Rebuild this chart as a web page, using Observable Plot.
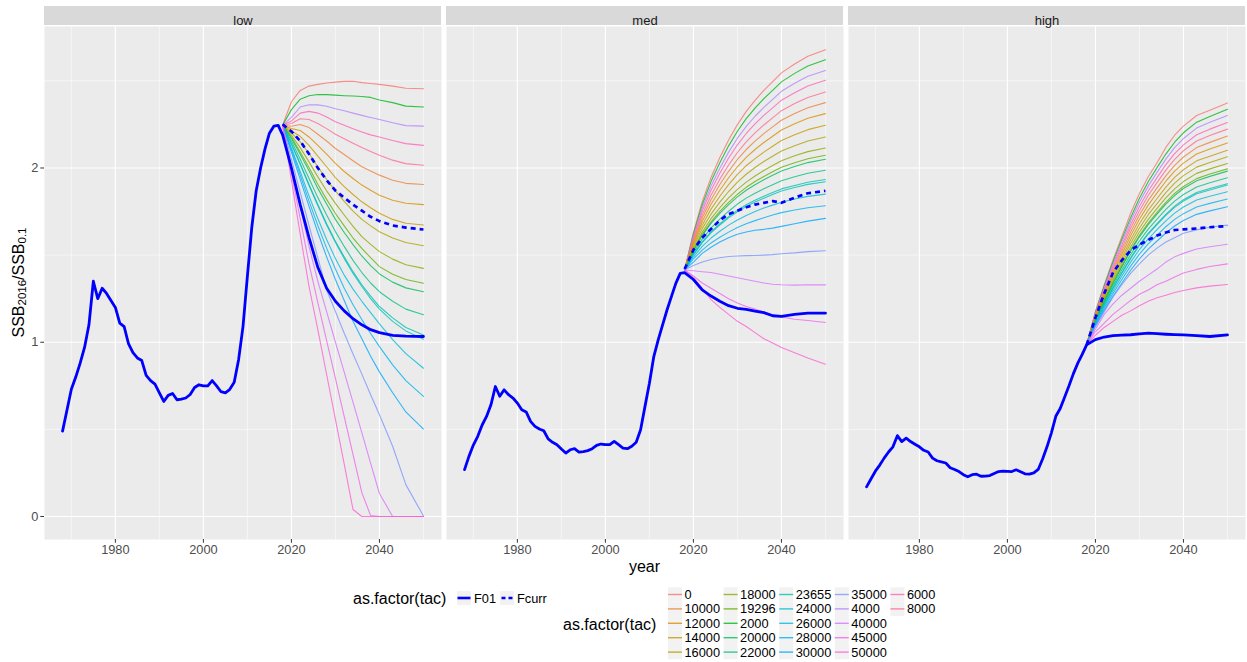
<!DOCTYPE html>
<html><head><meta charset="utf-8">
<script src="https://cdn.jsdelivr.net/npm/d3@7"></script>
<script src="https://cdn.jsdelivr.net/npm/@observablehq/plot@0.6"></script>
<style>
body{margin:0;background:#fff;}
#wrap{position:relative;width:1247px;height:662px;overflow:hidden;font-family:"Liberation Sans",Arial,sans-serif;}
#wrap svg{position:absolute;left:0;top:0;}
</style></head>
<body><div id="wrap"></div>
<script>
const FONT = "Liberation Sans, Arial, sans-serif";
const panels = ["low", "med", "high"];
const histYears = d3.range(1968, 2018);
const projYears = [2018, 2020, 2022, 2024, 2026, 2028, 2030, 2032, 2034, 2036, 2038, 2040, 2043, 2046, 2050];
const majorX = [1980, 2000, 2020, 2040];
const minorX = [1970, 1990, 2010, 2030, 2050];
const majorY = [0, 1, 2];
const minorY = [0.5, 1.5, 2.5];

// historical SSB ratio (F01 line, 1968-2017)
const lowHist = [0.49,0.61,0.73,0.80,0.88,0.97,1.10,1.35,1.25,1.31, 1.28,1.24,1.20,1.11,1.09,0.99,0.94,0.91,0.895,0.81, 0.78,0.76,0.71,0.66,0.695,0.706,0.67,0.674,0.68,0.70, 0.74,0.756,0.75,0.75,0.78,0.75,0.716,0.71,0.73,0.77, 0.90,1.09,1.38,1.66,1.87,2.00,2.11,2.20,2.24,2.245];
const medHist = [0.269,0.345,0.41,0.46,0.525,0.574,0.641,0.746,0.69,0.727, 0.699,0.68,0.651,0.613,0.60,0.546,0.517,0.502,0.492,0.445, 0.426,0.412,0.387,0.364,0.383,0.389,0.37,0.372,0.378,0.389, 0.408,0.416,0.412,0.412,0.431,0.412,0.393,0.389,0.403,0.426, 0.498,0.632,0.765,0.918,1.013,1.10,1.185,1.262,1.338,1.395];
const highHist = [0.170,0.215,0.26,0.295,0.335,0.37,0.40,0.464,0.43,0.45, 0.43,0.415,0.40,0.38,0.37,0.335,0.32,0.313,0.307,0.28, 0.27,0.258,0.24,0.228,0.24,0.243,0.231,0.232,0.235,0.247, 0.258,0.26,0.259,0.258,0.268,0.257,0.245,0.243,0.25,0.27, 0.33,0.40,0.48,0.575,0.62,0.685,0.75,0.82,0.88,0.93];

// F01 projections (projYears)
const lowF01 = [2.19,2.0,1.79,1.6,1.43,1.31,1.235,1.18,1.135,1.10,1.072,1.055,1.04,1.035,1.033];
const medF01 = [1.40,1.36,1.30,1.265,1.235,1.21,1.195,1.188,1.178,1.17,1.152,1.148,1.16,1.167,1.167];
const highF01 = [0.985,1.015,1.03,1.038,1.041,1.043,1.048,1.052,1.049,1.046,1.044,1.042,1.038,1.033,1.042];

// Fcurr projections (projYears)
const lowFcurr = [2.25,2.21,2.155,2.08,2.0,1.93,1.87,1.83,1.79,1.755,1.72,1.695,1.67,1.658,1.647];
const medFcurr = [1.42,1.53,1.60,1.65,1.70,1.735,1.755,1.775,1.79,1.80,1.81,1.80,1.83,1.855,1.869];
const highFcurr = [0.985,1.14,1.28,1.40,1.47,1.527,1.56,1.587,1.612,1.63,1.644,1.648,1.653,1.66,1.667];

// TAC scenarios (rows follow tacValues)
const tacValues = ["0","2000","4000","6000","8000","10000","12000","14000","16000","18000","19296","20000","22000","23655","24000","26000","28000","30000","35000","40000","45000","50000"];

const lowTac = [
[2.245,2.38,2.445,2.47,2.48,2.488,2.493,2.497,2.498,2.49,2.485,2.48,2.47,2.458,2.455],
[2.245,2.335,2.395,2.415,2.422,2.421,2.418,2.415,2.413,2.41,2.405,2.39,2.375,2.355,2.35],
[2.245,2.29,2.35,2.363,2.362,2.354,2.34,2.328,2.315,2.302,2.29,2.278,2.26,2.243,2.24],
[2.245,2.27,2.315,2.325,2.315,2.293,2.265,2.245,2.225,2.207,2.19,2.178,2.158,2.14,2.13],
[2.245,2.255,2.283,2.278,2.255,2.226,2.194,2.168,2.142,2.117,2.095,2.073,2.045,2.025,2.016],
[2.245,2.24,2.25,2.232,2.194,2.155,2.112,2.077,2.042,2.007,1.983,1.959,1.93,1.912,1.905],
[2.245,2.226,2.215,2.178,2.13,2.079,2.026,1.98,1.94,1.902,1.872,1.844,1.815,1.798,1.79],
[2.245,2.213,2.182,2.13,2.068,2.007,1.945,1.893,1.848,1.806,1.772,1.74,1.705,1.683,1.673],
[2.245,2.201,2.15,2.083,2.007,1.934,1.869,1.808,1.753,1.705,1.668,1.634,1.598,1.572,1.554],
[2.245,2.188,2.117,2.035,1.949,1.869,1.797,1.73,1.665,1.606,1.562,1.52,1.477,1.445,1.424],
[2.245,2.178,2.092,2.003,1.907,1.82,1.739,1.668,1.598,1.539,1.485,1.434,1.39,1.36,1.339],
[2.245,2.169,2.079,1.984,1.883,1.793,1.705,1.63,1.56,1.495,1.44,1.392,1.345,1.312,1.29],
[2.245,2.155,2.05,1.94,1.83,1.73,1.635,1.55,1.47,1.40,1.34,1.29,1.235,1.19,1.158],
[2.245,2.14,2.025,1.905,1.79,1.68,1.58,1.49,1.405,1.33,1.265,1.205,1.14,1.085,1.042],
[2.245,2.135,2.02,1.9,1.785,1.673,1.572,1.48,1.395,1.32,1.25,1.19,1.12,1.065,1.017],
[2.245,2.115,1.98,1.84,1.71,1.59,1.48,1.385,1.305,1.235,1.17,1.105,1.015,0.935,0.851],
[2.245,2.105,1.96,1.81,1.67,1.54,1.42,1.31,1.215,1.13,1.05,0.975,0.87,0.78,0.689],
[2.245,2.09,1.935,1.78,1.63,1.49,1.36,1.24,1.12,1.02,0.92,0.83,0.71,0.60,0.502],
[2.245,2.05,1.86,1.67,1.485,1.30,1.176,1.052,0.933,0.817,0.699,0.584,0.403,0.183,0.003],
[2.245,2.01,1.78,1.55,1.35,1.176,1.0,0.828,0.655,0.481,0.305,0.132,0.0,0.0,0.0],
[2.245,1.97,1.71,1.45,1.227,1.01,0.792,0.573,0.355,0.137,0.005,0.0,0.0,0.0,0.0],
[2.245,1.93,1.62,1.32,1.073,0.815,0.557,0.30,0.04,0.0,0.0,0.0,0.0,0.0,0.0]
];

const medTac = [
[1.415,1.63,1.807,1.946,2.06,2.161,2.249,2.325,2.388,2.445,2.496,2.546,2.597,2.641,2.679],
[1.415,1.62,1.789,1.922,2.03,2.127,2.211,2.283,2.344,2.398,2.446,2.494,2.543,2.585,2.621],
[1.415,1.61,1.77,1.896,1.999,2.091,2.171,2.239,2.297,2.348,2.394,2.44,2.486,2.526,2.56],
[1.415,1.6,1.752,1.872,1.97,2.057,2.133,2.198,2.253,2.302,2.345,2.389,2.432,2.47,2.503],
[1.415,1.589,1.732,1.844,1.936,2.017,2.089,2.15,2.201,2.247,2.288,2.329,2.37,2.405,2.436],
[1.415,1.578,1.713,1.818,1.905,1.981,2.049,2.106,2.154,2.197,2.236,2.274,2.313,2.346,2.375],
[1.415,1.567,1.693,1.792,1.872,1.944,2.007,2.061,2.106,2.146,2.182,2.218,2.254,2.285,2.312],
[1.415,1.556,1.672,1.764,1.838,1.905,1.963,2.013,2.054,2.091,2.125,2.158,2.191,2.22,2.245],
[1.415,1.545,1.652,1.735,1.804,1.865,1.919,1.964,2.003,2.037,2.067,2.098,2.128,2.155,2.178],
[1.415,1.534,1.632,1.709,1.772,1.828,1.877,1.919,1.954,1.986,2.014,2.042,2.07,2.094,2.115],
[1.415,1.527,1.619,1.691,1.751,1.803,1.849,1.889,1.922,1.951,1.978,2.004,2.03,2.053,2.073],
[1.415,1.523,1.612,1.682,1.739,1.79,1.834,1.872,1.904,1.933,1.958,1.983,2.009,2.031,2.05],
[1.415,1.512,1.592,1.655,1.707,1.752,1.793,1.827,1.855,1.881,1.904,1.927,1.95,1.97,1.987],
[1.415,1.503,1.576,1.633,1.68,1.721,1.758,1.789,1.815,1.838,1.859,1.88,1.9,1.918,1.934],
[1.415,1.501,1.572,1.628,1.673,1.714,1.749,1.779,1.805,1.827,1.848,1.868,1.888,1.906,1.921],
[1.415,1.489,1.55,1.598,1.637,1.672,1.702,1.728,1.75,1.77,1.787,1.804,1.822,1.837,1.85],
[1.415,1.478,1.529,1.57,1.603,1.632,1.658,1.68,1.698,1.715,1.73,1.744,1.759,1.772,1.783],
[1.415,1.46,1.51,1.545,1.575,1.60,1.62,1.633,1.643,1.648,1.655,1.665,1.68,1.695,1.711],
[1.415,1.44,1.46,1.475,1.485,1.492,1.495,1.497,1.498,1.50,1.503,1.508,1.513,1.52,1.525],
[1.415,1.41,1.405,1.40,1.39,1.38,1.37,1.36,1.35,1.34,1.333,1.33,1.328,1.33,1.329],
[1.415,1.38,1.34,1.31,1.28,1.25,1.225,1.205,1.19,1.173,1.157,1.145,1.132,1.125,1.113],
[1.415,1.37,1.31,1.245,1.2,1.16,1.12,1.09,1.055,1.02,0.995,0.97,0.94,0.91,0.874]
];

const highTac = [
[0.985,1.176,1.329,1.472,1.606,1.74,1.854,1.95,2.03,2.118,2.188,2.24,2.301,2.331,2.373],
[0.985,1.172,1.323,1.461,1.591,1.715,1.826,1.921,2.002,2.08,2.148,2.202,2.263,2.296,2.337],
[0.985,1.167,1.314,1.448,1.575,1.696,1.804,1.896,1.975,2.051,2.117,2.169,2.229,2.262,2.301],
[0.985,1.161,1.304,1.434,1.557,1.674,1.779,1.868,1.945,2.019,2.082,2.133,2.191,2.223,2.261],
[0.985,1.156,1.295,1.421,1.54,1.654,1.755,1.842,1.916,1.988,2.05,2.099,2.155,2.186,2.223],
[0.985,1.15,1.285,1.407,1.522,1.632,1.73,1.814,1.886,1.955,2.015,2.063,2.117,2.147,2.183],
[0.985,1.145,1.275,1.393,1.504,1.611,1.706,1.787,1.857,1.924,1.982,2.028,2.08,2.109,2.144],
[0.985,1.139,1.264,1.378,1.485,1.588,1.68,1.758,1.825,1.89,1.946,1.99,2.041,2.068,2.102],
[0.985,1.134,1.255,1.365,1.468,1.568,1.656,1.732,1.796,1.859,1.913,1.956,2.005,2.032,2.064],
[0.985,1.129,1.245,1.351,1.451,1.547,1.633,1.705,1.768,1.828,1.88,1.922,1.969,1.995,2.026],
[0.985,1.124,1.238,1.341,1.437,1.53,1.613,1.684,1.745,1.803,1.854,1.894,1.939,1.965,1.995],
[0.985,1.123,1.234,1.336,1.432,1.523,1.605,1.675,1.735,1.793,1.842,1.882,1.927,1.952,1.982],
[0.985,1.117,1.225,1.323,1.415,1.503,1.581,1.649,1.706,1.762,1.81,1.848,1.891,1.915,1.944],
[0.985,1.113,1.216,1.311,1.399,1.485,1.56,1.625,1.681,1.734,1.781,1.818,1.859,1.882,1.91],
[0.985,1.112,1.214,1.308,1.396,1.48,1.555,1.62,1.675,1.728,1.774,1.81,1.852,1.874,1.902],
[0.985,1.106,1.205,1.294,1.379,1.46,1.532,1.593,1.646,1.697,1.741,1.776,1.816,1.838,1.864],
[0.985,1.101,1.194,1.28,1.36,1.437,1.506,1.564,1.614,1.663,1.705,1.738,1.776,1.797,1.822],
[0.985,1.094,1.183,1.264,1.34,1.413,1.478,1.534,1.581,1.627,1.667,1.699,1.734,1.754,1.778],
[0.985,1.09,1.175,1.26,1.33,1.395,1.45,1.50,1.54,1.575,1.60,1.625,1.645,1.66,1.672],
[0.985,1.075,1.16,1.22,1.27,1.31,1.35,1.385,1.42,1.46,1.49,1.51,1.535,1.548,1.562],
[0.985,1.06,1.11,1.16,1.2,1.24,1.275,1.3,1.33,1.35,1.375,1.397,1.418,1.435,1.45],
[0.985,1.04,1.085,1.12,1.155,1.18,1.209,1.235,1.255,1.27,1.285,1.297,1.312,1.322,1.331]
];

// ---- build tables ----
const histByPanel = {low: lowHist, med: medHist, high: highHist};
const f01ByPanel = {low: lowF01, med: medF01, high: highF01};
const fcurrByPanel = {low: lowFcurr, med: medFcurr, high: highFcurr};
const tacByPanel = {low: lowTac, med: medTac, high: highTac};

const tacData = [], f01Data = [], fcurrData = [];
for (const p of panels) {
  tacByPanel[p].forEach((row, i) => row.forEach((v, j) =>
    tacData.push({panel: p, tac: tacValues[i], year: projYears[j], value: v})));
  histByPanel[p].forEach((v, j) => f01Data.push({panel: p, year: histYears[j], value: v}));
  f01ByPanel[p].forEach((v, j) => f01Data.push({panel: p, year: projYears[j], value: v}));
  fcurrByPanel[p].forEach((v, j) => fcurrData.push({panel: p, year: projYears[j], value: v}));
}

// ggplot2 default hue palette (polar LUV, c=100, l=65)
function hclHex(h, c, l) {
  const WX = 95.047, WY = 100.0, WZ = 108.883;
  const hr = h * Math.PI / 180;
  const U = c * Math.cos(hr), V = c * Math.sin(hr);
  const Y = WY * (l > 7.999592 ? Math.pow((l + 16) / 116, 3) : l / 903.3);
  const t = WX + WY + WZ, x = WX / t, y = WY / t;
  const uN = 2 * x / (6 * y - x + 1.5), vN = 4.5 * y / (6 * y - x + 1.5);
  const u = U / (13 * l) + uN, v = V / (13 * l) + vN;
  const X = 9.0 * Y * u / (4 * v);
  const Z = -X / 3 - 5 * Y + 3 * Y / v;
  const g = q => { q = q / WY; q = q > 0.00304 ? 1.055 * Math.pow(q, 1 / 2.4) - 0.055 : 12.92 * q; return Math.max(0, Math.min(1, q)); };
  const R = g(3.240479 * X - 1.537150 * Y - 0.498535 * Z);
  const G = g(-0.969256 * X + 1.875992 * Y + 0.041556 * Z);
  const B = g(0.055648 * X - 0.204043 * Y + 1.057311 * Z);
  return d3.rgb(R * 255, G * 255, B * 255).formatHex();
}
const tacLevels = tacValues.slice().sort();
const tacColors = tacLevels.map((d, i) => hclHex(15 + 360 * i / tacLevels.length, 100, 65));

// ---- plot ----
const xDom = [1963.9, 2054.1];
const yDom = [-0.132, 2.812];
const W = 1247, H = 580, mT = 26, mB = 41, mL = 43, mR = 1;
const ppu = (H - mT - mB) / (yDom[1] - yDom[0]);
const stripLo = yDom[1] + 1 / ppu, stripHi = yDom[1] + 20 / ppu;

const chart = Plot.plot({
  width: W, height: H,
  marginTop: mT, marginBottom: mB, marginLeft: mL, marginRight: mR,
  style: {fontFamily: FONT, background: "transparent", overflow: "visible"},
  fx: {domain: panels, axis: null, paddingInner: 0.012, paddingOuter: 0, label: null},
  x: {domain: xDom, nice: false, label: null},
  y: {domain: yDom, label: null},
  color: {domain: tacLevels, range: tacColors},
  marks: [
    Plot.frame({fill: "#EBEBEB", stroke: "none"}),
    Plot.ruleX(minorX, {stroke: "#ffffff", strokeWidth: 0.55}),
    Plot.ruleY(minorY, {stroke: "#ffffff", strokeWidth: 0.55}),
    Plot.ruleX(majorX, {stroke: "#ffffff", strokeWidth: 1.1}),
    Plot.ruleY(majorY, {stroke: "#ffffff", strokeWidth: 1.1}),
    Plot.rect(panels, {fx: d => d, x1: () => xDom[0], x2: () => xDom[1], y1: () => stripLo, y2: () => stripHi, fill: "#D9D9D9"}),
    Plot.text(panels, {fx: d => d, frameAnchor: "top", dy: -10.5, text: d => d, fontSize: 13, fill: "#1A1A1A"}),
    Plot.line(tacData, {fx: "panel", x: "year", y: "value", z: "tac", stroke: "tac", strokeWidth: 1.1, strokeOpacity: 0.8}),
    Plot.line(f01Data, {fx: "panel", x: "year", y: "value", stroke: "#0000FF", strokeWidth: 2.8}),
    Plot.line(fcurrData, {fx: "panel", x: "year", y: "value", stroke: "#0000FF", strokeWidth: 2.7, strokeDasharray: "5,4", strokeLinecap: "butt"}),
    Plot.axisX({ticks: majorX, tickSize: 3.7, tickPadding: 1.5, tickFormat: d => String(d), fontSize: 12.8, stroke: "#333333", fill: "#4D4D4D", label: null}),
    Plot.axisY({ticks: majorY, tickSize: 3.7, tickPadding: 2.5, tickFormat: d => String(d), fontSize: 12.8, stroke: "#333333", fill: "#4D4D4D", label: null})
  ]
});

const wrap = document.getElementById("wrap");
wrap.appendChild(chart);
const svg = d3.select(chart);

// axis titles
svg.append("text").attr("x", (mL + W - mR) / 2).attr("y", 566)
  .attr("text-anchor", "middle").attr("dominant-baseline", "central")
  .attr("font-size", 16).attr("fill", "#000").attr("font-family", FONT).text("year");

const yt = svg.append("text")
  .attr("transform", `translate(17.5,${(mT + H - mB) / 2}) rotate(-90)`)
  .attr("text-anchor", "middle").attr("dominant-baseline", "central")
  .attr("font-size", 16).attr("fill", "#000").attr("font-family", FONT);
yt.append("tspan").text("SSB");
yt.append("tspan").attr("font-size", 11.5).attr("dy", 4).text("2016");
yt.append("tspan").attr("dy", -4).text("/");
yt.append("tspan").text("SSB");
yt.append("tspan").attr("font-size", 11.5).attr("dy", 4).text("0.1");

// ---- legends (below the plot) ----
const lg = d3.select(wrap).append("svg")
  .attr("width", W).attr("height", 82)
  .style("top", H + "px").style("left", "0px")
  .attr("font-family", FONT);

// legend 1: linetype
lg.append("text").attr("x", 353).attr("y", 18).attr("dominant-baseline", "central")
  .attr("font-size", 16).attr("fill", "#000").text("as.factor(tac)");
const ltItems = [{label: "F01", dash: null, kx: 457}, {label: "Fcurr", dash: "4,3", kx: 500}];
for (const it of ltItems) {
  lg.append("rect").attr("x", it.kx).attr("y", 11).attr("width", 14).attr("height", 14).attr("fill", "#F2F2F2");
  const ln = lg.append("line").attr("x1", it.kx + 0.5).attr("x2", it.kx + 13.5).attr("y1", 18).attr("y2", 18)
    .attr("stroke", "#0000FF").attr("stroke-width", 2.6);
  if (it.dash) ln.attr("stroke-dasharray", it.dash).attr("stroke-dashoffset", -1);
  lg.append("text").attr("x", it.kx + 17).attr("y", 18).attr("dominant-baseline", "central")
    .attr("font-size", 12.8).attr("fill", "#000").text(it.label);
}

// legend 2: colour
lg.append("text").attr("x", 563).attr("y", 44).attr("dominant-baseline", "central")
  .attr("font-size", 16).attr("fill", "#000").text("as.factor(tac)");
tacLevels.forEach((lev, i) => {
  const c = Math.floor(i / 5), r = i % 5;
  const kx = 668 + c * 55.6, cy = 14.5 + r * 14.4;
  lg.append("rect").attr("x", kx).attr("y", cy - 7.2).attr("width", 14).attr("height", 14.4).attr("fill", "#F2F2F2");
  lg.append("line").attr("x1", kx).attr("x2", kx + 14).attr("y1", cy).attr("y2", cy)
    .attr("stroke", tacColors[i]).attr("stroke-width", 1.4).attr("stroke-opacity", 0.8);
  lg.append("text").attr("x", kx + 16.5).attr("y", cy).attr("dominant-baseline", "central")
    .attr("font-size", 12.8).attr("fill", "#000").text(lev);
});
</script>
</body></html>
